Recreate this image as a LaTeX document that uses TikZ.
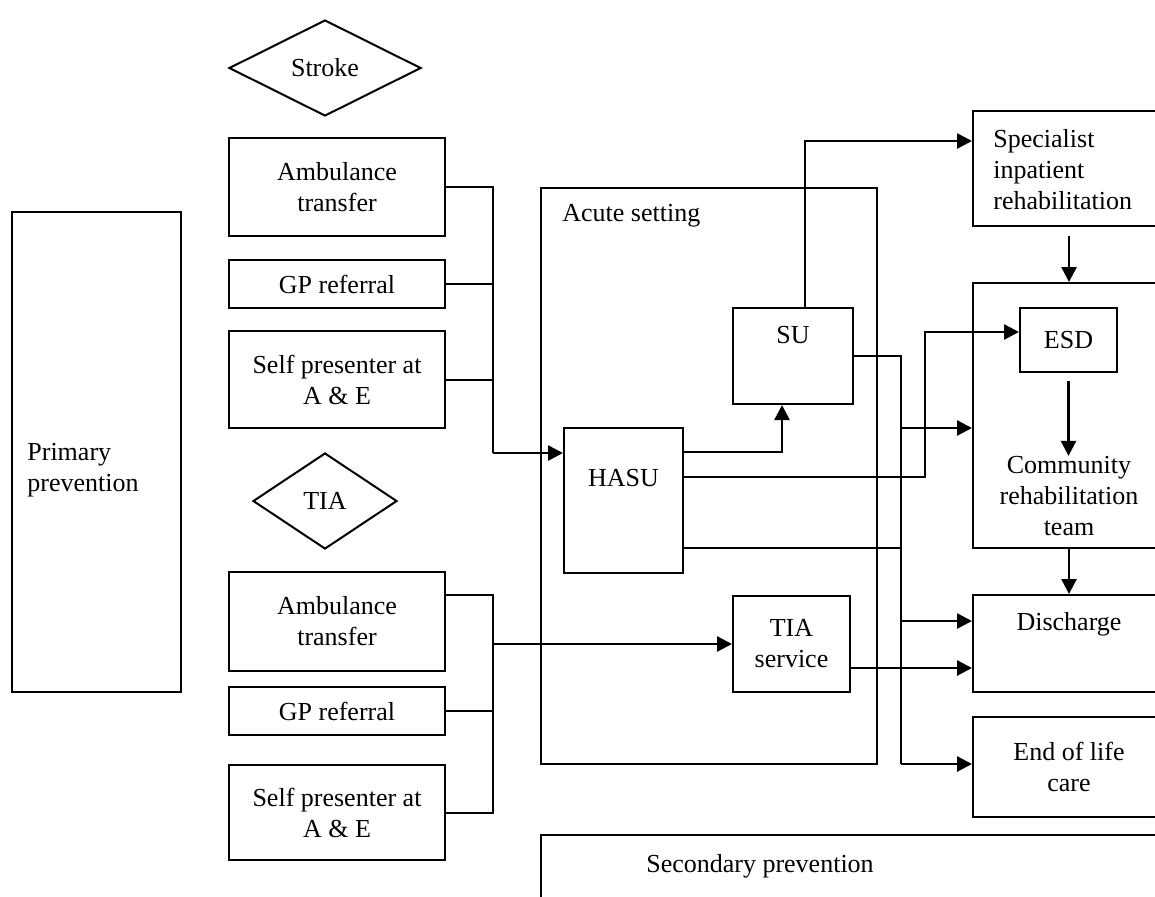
\documentclass[tikz,border=0pt]{standalone}
\usepackage{fontspec}
\setmainfont{Liberation Serif}
\usetikzlibrary{positioning, calc, shapes.geometric, arrows.meta}

\tikzset{
  box/.style={draw, line width=1pt, inner sep=0pt},
  txt/.style={font=\fontsize{13}{15.5}\selectfont, align=center, inner sep=0pt},
  arr/.style={line width=1.3pt, -{Triangle[length=7.5pt,width=7.5pt]}},
  link/.style={line width=1pt},
}

\begin{document}
\begin{tikzpicture}[x=0.5pt, y=-0.5pt]
        \useasboundingbox (0,0) rectangle (1155,896);
        \clip (0,0) rectangle (1155,896);
        % left column
        \node[box, minimum width=84.5pt, minimum height=240pt] (prim) at (96.5,452) {};
        \node[txt, anchor=west, align=left] (primtxt) at (27,470) {Primary\\prevention};
        \node[box, diamond, txt, minimum width=96pt, minimum height=48pt] (stroke) at (325,68) {Stroke};
        \node[box, txt, minimum width=108pt, minimum height=49pt] (amb1) at (337,187) {Ambulance\\transfer};
        \node[box, txt, minimum width=108pt, minimum height=24pt] (gp1) at (337,284) {GP referral};
        \node[box, txt, minimum width=108pt, minimum height=48.5pt] (self1) at (337,379.5) {Self presenter at\\A \& E};
        \node[box, diamond, txt, minimum width=72pt, minimum height=48pt] (tia) at (325,501) {TIA};
        \node[box, txt, minimum width=108pt, minimum height=49.5pt] (amb2) at (337,621.5) {Ambulance\\transfer};
        \node[box, txt, minimum width=108pt, minimum height=24pt] (gp2) at (337,711) {GP referral};
        \node[box, txt, minimum width=108pt, minimum height=47.5pt] (self2) at (337,812.5) {Self presenter at\\A \& E};
        % acute setting
        \node[box, minimum width=168pt, minimum height=288pt] (acute) at (709,476) {};
        \node[txt, anchor=west] (acutetxt) at (562,216) {Acute setting};
        \node[box, minimum width=59.5pt, minimum height=72.5pt] (hasu) at (623.5,500.5) {};
        \node[txt] (hasutxt) at (623.5,478) {HASU};
        \node[box, minimum width=60pt, minimum height=48pt] (su) at (793,356) {};
        \node[txt] (sutxt) at (793,335) {SU};
        \node[box, txt, minimum width=58.5pt, minimum height=48pt] (tias) at (791.5,644) {TIA\\service};
        % right column
        \node[box, minimum width=96pt, minimum height=57.5pt] (spec) at (1069,168.5) {};
        \node[txt, anchor=west, align=left] (spectxt) at (993,170) {Specialist\\inpatient\\rehabilitation};
        \node[box, minimum width=96pt, minimum height=132.5pt] (comm) at (1069,415.5) {};
        \node[txt] (commtxt) at (1069,496) {Community\\rehabilitation\\team};
        \node[box, txt, minimum width=48.5pt, minimum height=32pt] (esd) at (1068.5,340) {ESD};
        \node[box, minimum width=96pt, minimum height=48.5pt] (disc) at (1069,643.5) {};
        \node[txt] (disctxt) at (1069,624) {Discharge};
        \node[box, txt, minimum width=96pt, minimum height=50pt] (eol) at (1069,767) {End of life\\care};
        \node[box, minimum width=340pt, minimum height=40pt] (sec) at (881,875) {};
        \node[txt] (sectxt) at (760,866) {Secondary prevention};
        % stroke referrals
        \coordinate (j1) at (493,453);
        \draw[link] (amb1.east) -| (j1);
        \draw[link] (gp1.east) -- (gp1.east -| j1);
        \draw[link] (self1.east) -- (self1.east -| j1);
        \draw[arr] (j1) -- (j1 -| hasu.west);
        % tia referrals
        \coordinate (j2) at (493,644);
        \coordinate (j3) at ($(amb2.north east)+(0,24)$);
        \draw[link] (j3) -| (self2.east -| j2) -- (self2.east);
        \draw[link] (gp2.east) -- (gp2.east -| j2);
        \draw[arr] (j2) -- (tias.west);
        % out of the acute setting
        \coordinate (s1) at (805,141);
        \draw[arr] (s1 |- su.north) -- (s1) -- (s1 -| spec.west);
        \coordinate (h1) at (782,452);
        \draw[arr] (h1 -| hasu.east) -- (h1) -- (h1 |- su.south);
        \coordinate (h2) at (925,477);
        \coordinate (h3) at (925,332);
        \draw[arr] (h2 -| hasu.east) -- (h2) -- (h3) -- (h3 -| esd.west);
        \coordinate (v1) at (901,764);
        \draw[link] (su.east) -| (v1);
        \draw[arr] (v1) -- (v1 -| eol.west);
        \coordinate (v2) at (901,428);
        \draw[arr] (v2) -- (v2 -| comm.west);
        \coordinate (v3) at (901,621);
        \draw[arr] (v3) -- (v3 -| disc.west);
        \coordinate (v4) at (901,548);
        \draw[link] (v4 -| hasu.east) -- (v4);
        \coordinate (t1) at (901,668);
        \draw[arr] (t1 -| tias.east) -- (t1 -| disc.west);
        % rehabilitation
        \draw[arr, shorten <=4.5pt] (spec.south) -- (comm.north);
        \draw[arr, shorten <=4pt] (esd.south) -- (esd.south |- commtxt.north);
        \draw[arr] (comm.south) -- (disc.north);
    \end{tikzpicture}
\end{document}
